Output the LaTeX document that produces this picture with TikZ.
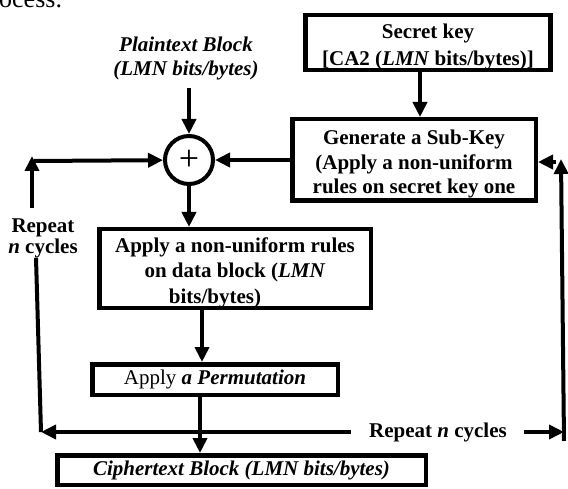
\documentclass[tikz,border=0pt]{standalone}
\usepackage{fontspec}
\setmainfont{Liberation Serif}
\usetikzlibrary{arrows.meta,calc}

% taller first line, so the text block sits a little lower in its box
\newcommand{\lowerstrut}{\rule{0pt}{23pt}}

\begin{document}
\begin{tikzpicture}[x=1pt,y=-1pt,
  box/.style={draw, line width=4.5pt, align=center, inner sep=0pt,
    font=\bfseries\fontsize{21}{25}\selectfont},
  conn/.style={line width=4pt, -{Triangle[length=15pt,width=14pt]}},
  plainline/.style={line width=4pt},
  lbl/.style={align=center, inner sep=0pt, font=\bfseries\fontsize{21}{21}\selectfont}]

\useasboundingbox (0,0) rectangle (568,489);

% tail of the preceding sentence
\node[anchor=base west, inner sep=0pt, font=\fontsize{26}{26}\selectfont] (prev) at (-1,8) {ocess.};

% blocks
\node[box, font=\bfseries\fontsize{21}{27}\selectfont, minimum width=245pt, minimum height=54pt]
  (secret) at (428,42.5) {\lowerstrut Secret key\\{[}CA2 (\textit{LMN} bits/bytes){]}};
\node[box, font=\bfseries\fontsize{21}{24.5}\selectfont, minimum width=243.5pt, minimum height=81.5pt]
  (subkey) at (414,160) {\lowerstrut Generate a Sub-Key\\(Apply a non-uniform\\rules on secret key one};
\node[circle, draw, line width=4pt, minimum size=48pt, inner sep=0pt,
  font=\fontsize{36}{36}\selectfont] (xor) at (189,160) {\raisebox{-2pt}{+}};
\node[box, font=\bfseries\fontsize{21}{25.5}\selectfont, minimum width=271.5pt, minimum height=78.5pt]
  (data) at (235,268.5) {\lowerstrut Apply a non-uniform rules\\on data block (\textit{LMN}\\bits/bytes)\hspace*{40pt}};
\node[box, font=\fontsize{21}{25}\selectfont, minimum width=245.5pt, minimum height=30.5pt]
  (perm) at (215,379.5) {Apply \textbf{\textit{a Permutation}}};
\node[box, minimum width=368.5pt, minimum height=29.5pt]
  (cipher) at (241.5,470) {\textit{Ciphertext Block (LMN bits/bytes)}};

% labels
\node[lbl, font=\bfseries\itshape\fontsize{21}{24}\selectfont] (plain) at (186,58)
  {Plaintext Block\\(LMN bits/bytes)};
\node[lbl] (leftlbl) at (43,238) {Repeat\\\textit{n} cycles};
\node[lbl] (botlbl) at (438,432) {Repeat \textit{n} cycles};

% reference points of the loop
\coordinate (kx) at (420,0);
\coordinate (dx) at (202,0);
\coordinate (px) at (200,0);
\coordinate (ltop) at (32,156);
\coordinate (lcorner) at (34,161);
\coordinate (lbtop) at (36,0);
\coordinate (lb) at (41,432);
\coordinate (rb) at (564,432);
\coordinate (rbend) at (564,441);
\coordinate (rt) at (561,159);
\coordinate (rcorner) at (556,162);

% main flow
\draw[conn, shorten <=8pt] (plain.south -| xor) -- (xor.north);
\draw[conn] (secret.south -| kx) -- (subkey.north -| kx);
\draw[conn] (subkey.west) -- (xor);
\draw[conn] (xor.south) -- (xor.south |- data.north);
\draw[conn] (data.south -| dx) -- (perm.north -| dx);
\draw[conn] (perm.south -| px) -- (cipher.north -| px);

% round loop
\draw[conn, shorten <=18pt] (botlbl.west) -- (lb);
\draw[conn, shorten <=17pt] (botlbl.east) -- (rb);
\draw[conn] (rbend) -- (rt);
\draw[conn] (rcorner) -- (rcorner -| subkey.east);
\draw[plainline] (leftlbl.south -| lbtop) -- (lb);
\draw[conn, shorten <=10pt] (leftlbl.north -| ltop) -- (ltop);
\draw[conn] (lcorner) -- (xor);
\end{tikzpicture}
\end{document}
